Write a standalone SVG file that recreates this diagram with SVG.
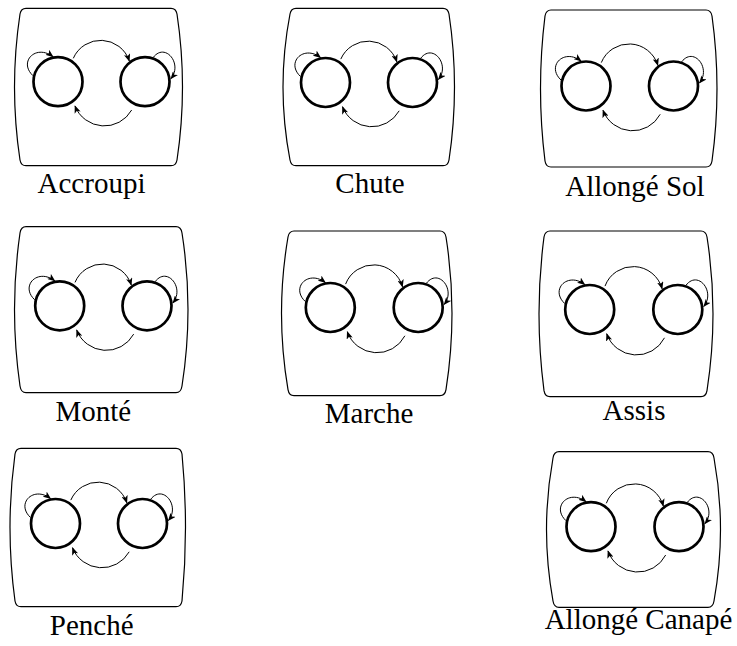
<svg xmlns="http://www.w3.org/2000/svg" width="737" height="646" viewBox="0 0 737 646">
<style>
.frame{fill:none;stroke:#000;stroke-width:1.2}
.state{fill:none;stroke:#000;stroke-width:2.7}
.edge{fill:none;stroke:#000;stroke-width:1;marker-end:url(#arr)}
.lbl{font-family:'Liberation Serif',serif;font-size:29px;fill:#000;text-anchor:middle}
</style>
<defs>
<marker id="arr" viewBox="0 0 10 8" refX="9" refY="4" markerWidth="8" markerHeight="6.4" markerUnits="userSpaceOnUse" orient="auto">
<path d="M0,0 L10,4 L0,8 L2.5,4 Z" fill="#000"/>
</marker>
</defs>
<rect width="737" height="646" fill="#fff"/>

<g id="panel-accroupi">
<path class="frame" d="M26,8.3 H171 Q176,8.3 177,14 Q188,87 177,160 Q176,165.7 171,165.7 H26 Q21,165.7 20,160 Q9,87 20,14 Q21,8.3 26,8.3 Z"/>
<g transform="translate(58,81.7)">
<g class="nodes"><circle class="state" cx="0" cy="0" r="24.5"/><circle class="state" cx="87" cy="0" r="24.5"/></g>
<g class="connectors">
<path class="edge" d="M15.3,-23.4 A30 30 0 0 1 71.3,-20.7"/>
<path class="edge" d="M73.7,28.3 A31.5 31.5 0 0 1 17,24.3"/>
<path class="edge" d="M-25,-6 C-40,-20 -22,-38 -5,-25"/>
<path class="edge" d="M95,-24 C107,-40 125,-18 113,-3"/>
</g>
</g>
<text class="lbl" x="91.5" y="192.7">Accroupi</text>
</g>

<g id="panel-chute">
<path class="frame" d="M296,8.3 H443 Q448,8.3 449,14 Q460,87 449,160 Q448,165.7 443,165.7 H296 Q291,165.7 290,160 Q276,87 290,14 Q291,8.3 296,8.3 Z"/>
<g transform="translate(325.5,82.5)">
<g class="nodes"><circle class="state" cx="0" cy="0" r="24.5"/><circle class="state" cx="87" cy="0" r="24.5"/></g>
<g class="connectors">
<path class="edge" d="M15.3,-23.4 A30 30 0 0 1 71.3,-20.7"/>
<path class="edge" d="M73.7,28.3 A31.5 31.5 0 0 1 17,24.3"/>
<path class="edge" d="M-25,-6 C-40,-20 -22,-38 -5,-25"/>
<path class="edge" d="M95,-24 C107,-40 125,-18 113,-3"/>
</g>
</g>
<text class="lbl" x="370" y="193.3">Chute</text>
</g>

<g id="panel-allonge-sol">
<path class="frame" d="M551,10 H706 Q711,10 712,16 Q722,88.5 712,161 Q711,167 706,167 H551 Q546,167 545,161 Q536,88.5 545,16 Q546,10 551,10 Z"/>
<g transform="translate(586,86)">
<g class="nodes"><circle class="state" cx="0" cy="0" r="24.5"/><circle class="state" cx="87.5" cy="0" r="24.5"/></g>
<g class="connectors">
<path class="edge" d="M15.3,-23.4 A30 30 0 0 1 71.8,-20.7"/>
<path class="edge" d="M74.2,28.3 A31.5 31.5 0 0 1 17,24.3"/>
<path class="edge" d="M-25,-6 C-40,-20 -22,-38 -5,-25"/>
<path class="edge" d="M95.5,-24 C107.5,-40 125.5,-18 113.5,-3"/>
</g>
</g>
<text class="lbl" x="635" y="196">Allongé Sol</text>
</g>

<g id="panel-monte">
<path class="frame" d="M26,226.7 H176 Q181,226.7 182,233 Q194,309.7 182,386 Q181,392.7 176,392.7 H26 Q21,392.7 20,386 Q9,309.7 20,233 Q21,226.7 26,226.7 Z"/>
<g transform="translate(59.7,305.8)">
<g class="nodes"><circle class="state" cx="0" cy="0" r="24.5"/><circle class="state" cx="87.3" cy="0" r="24.5"/></g>
<g class="connectors">
<path class="edge" d="M15.3,-23.4 A30 30 0 0 1 71.6,-20.7"/>
<path class="edge" d="M74,28.3 A31.5 31.5 0 0 1 17,24.3"/>
<path class="edge" d="M-25,-6 C-40,-20 -22,-38 -5,-25"/>
<path class="edge" d="M95.3,-24 C107.3,-40 125.3,-18 113.3,-3"/>
</g>
</g>
<text class="lbl" x="93.3" y="420.7">Monté</text>
</g>

<g id="panel-marche">
<path class="frame" d="M294,231 H440 Q445,231 446,237 Q458,313.3 446,389.7 Q445,395.7 440,395.7 H294 Q289,395.7 288,389.7 Q275,313.3 288,237 Q289,231 294,231 Z"/>
<g transform="translate(330.3,307.5)">
<g class="nodes"><circle class="state" cx="0" cy="0" r="24.5"/><circle class="state" cx="87.9" cy="0" r="24.5"/></g>
<g class="connectors">
<path class="edge" d="M15.3,-23.4 A30 30 0 0 1 72.2,-20.7"/>
<path class="edge" d="M74.6,28.3 A31.5 31.5 0 0 1 17,24.3"/>
<path class="edge" d="M-25,-6 C-40,-20 -22,-38 -5,-25"/>
<path class="edge" d="M95.9,-24 C107.9,-40 125.9,-18 113.9,-3"/>
</g>
</g>
<text class="lbl" x="369" y="423.3">Marche</text>
</g>

<g id="panel-assis">
<path class="frame" d="M550,231 H701 Q706,231 707,237 Q719,313.8 707,390.7 Q706,396.7 701,396.7 H550 Q545,396.7 544,390.7 Q534,313.8 544,237 Q545,231 550,231 Z"/>
<g transform="translate(589.7,309.5)">
<g class="nodes"><circle class="state" cx="0" cy="0" r="24.5"/><circle class="state" cx="88.1" cy="0" r="24.5"/></g>
<g class="connectors">
<path class="edge" d="M15.3,-23.4 A30 30 0 0 1 72.4,-20.7"/>
<path class="edge" d="M74.8,28.3 A31.5 31.5 0 0 1 17,24.3"/>
<path class="edge" d="M-25,-6 C-40,-20 -22,-38 -5,-25"/>
<path class="edge" d="M96.1,-24 C108.1,-40 126.1,-18 114.1,-3"/>
</g>
</g>
<text class="lbl" x="634" y="420">Assis</text>
</g>

<g id="panel-penche">
<path class="frame" d="M21,448.3 H176 Q181,448.3 182,454 Q189,527.5 182,601 Q181,606.7 176,606.7 H21 Q16,606.7 15,601 Q5,527.5 15,454 Q16,448.3 21,448.3 Z"/>
<g transform="translate(55.5,523.5)">
<g class="nodes"><circle class="state" cx="0" cy="0" r="24.5"/><circle class="state" cx="87" cy="0" r="24.5"/></g>
<g class="connectors">
<path class="edge" d="M15.3,-23.4 A30 30 0 0 1 71.3,-20.7"/>
<path class="edge" d="M73.7,28.3 A31.5 31.5 0 0 1 17,24.3"/>
<path class="edge" d="M-25,-6 C-40,-20 -22,-38 -5,-25"/>
<path class="edge" d="M95,-24 C107,-40 125,-18 113,-3"/>
</g>
</g>
<text class="lbl" x="91.7" y="635">Penché</text>
</g>

<g id="panel-allonge-canape">
<path class="frame" d="M559,451.7 H708 Q713,451.7 714,458 Q727,529.5 714,601 Q713,607.3 708,607.3 H559 Q554,607.3 553,601 Q540,529.5 553,458 Q554,451.7 559,451.7 Z"/>
<g transform="translate(591,526.7)">
<g class="nodes"><circle class="state" cx="0" cy="0" r="24.5"/><circle class="state" cx="88" cy="0" r="24.5"/></g>
<g class="connectors">
<path class="edge" d="M15.3,-23.4 A30 30 0 0 1 72.3,-20.7"/>
<path class="edge" d="M74.7,28.3 A31.5 31.5 0 0 1 17,24.3"/>
<path class="edge" d="M-25,-6 C-40,-20 -22,-38 -5,-25"/>
<path class="edge" d="M96,-24 C108,-40 126,-18 114,-3"/>
</g>
</g>
<text class="lbl" x="638.5" y="629">Allongé Canapé</text>
</g>
</svg>
